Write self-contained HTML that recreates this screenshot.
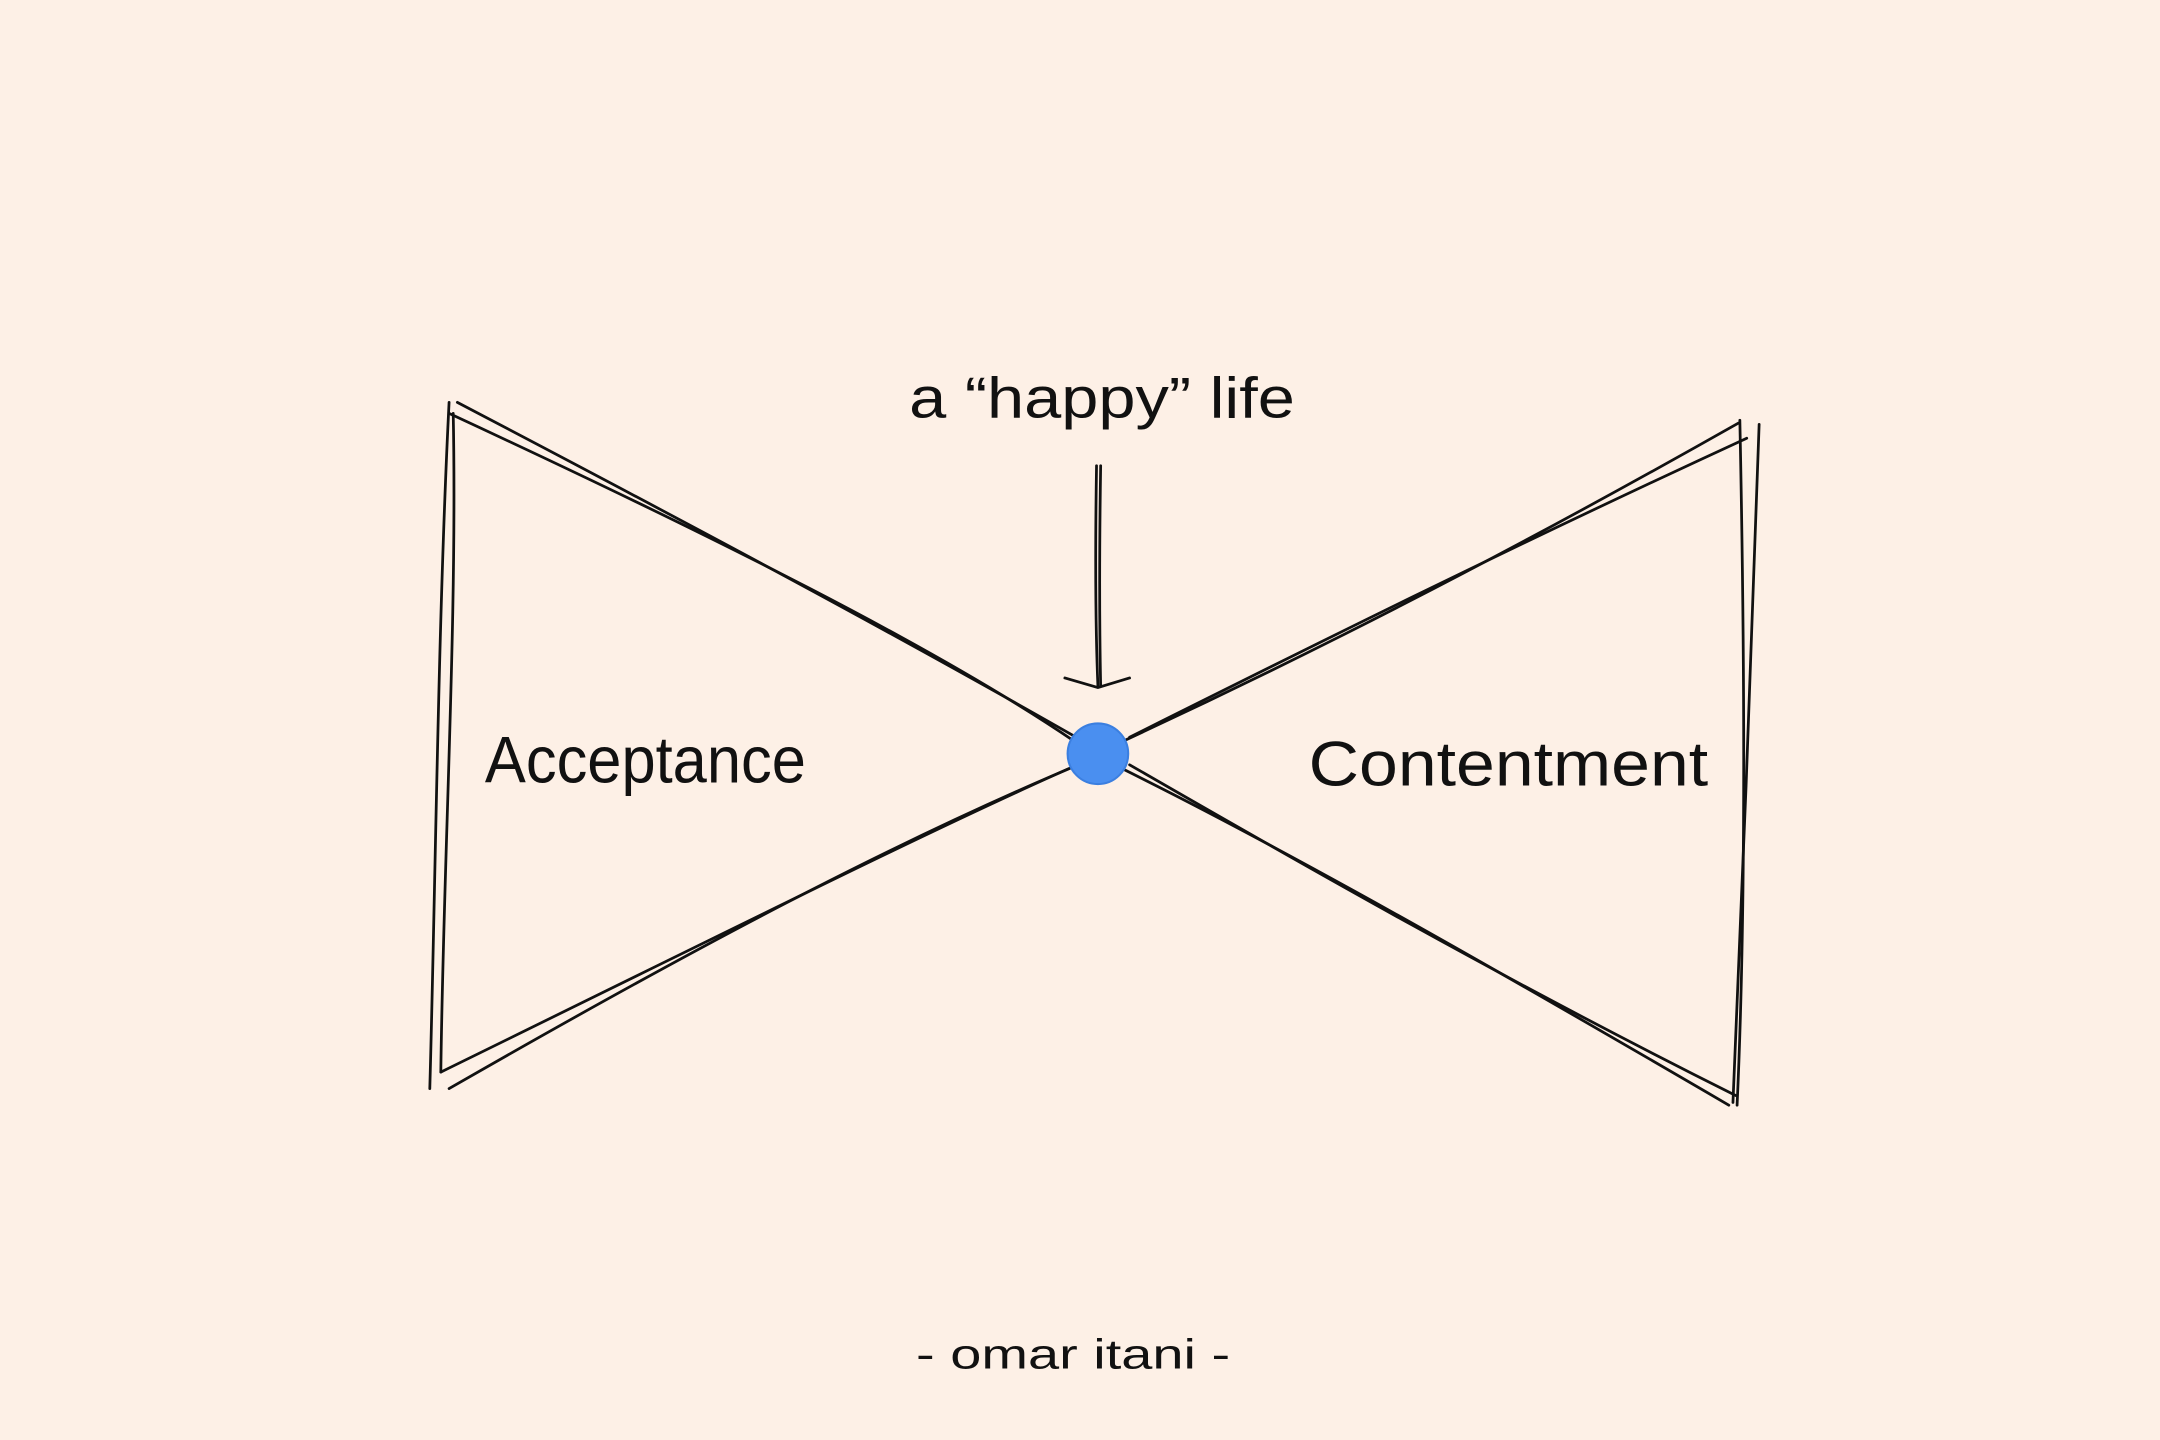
<!DOCTYPE html>
<html><head><meta charset="utf-8"><style>
html,body{margin:0;padding:0;background:#fdf0e6;}
svg{display:block;}
text{font-family:"Liberation Sans",sans-serif;fill:#111;}
</style></head><body>
<svg width="2160" height="1440" viewBox="0 0 1568 1045" preserveAspectRatio="none" xmlns="http://www.w3.org/2000/svg">
<rect width="1568" height="1045" fill="#fdf0e6"/>
<g stroke="#111" stroke-width="2" fill="none" stroke-linecap="round">
<path d="M326 292 C 318 450, 316 650, 312 790"/>
<path d="M329 300 C 332 450, 322 620, 320 778"/>
<path d="M332 292 C 500 380, 650 460, 790 540"/>
<path d="M326 300 C 520 390, 680 470, 780 538"/>
<path d="M326 790 C 500 690, 650 610, 790 552"/>
<path d="M320 778 C 520 680, 680 600, 780 556"/>
<path d="M1263 305 C 1266 450, 1268 650, 1261 802"/>
<path d="M1277 308 C 1272 450, 1265 650, 1258 800"/>
<path d="M1262 307 C 1080 410, 940 480, 815 538"/>
<path d="M1268 318 C 1090 400, 950 470, 820 535"/>
<path d="M1255 802 C 1080 700, 940 620, 815 558"/>
<path d="M1260 795 C 1090 710, 950 630, 820 555"/>
<path d="M796 338 C 795 400, 795 450, 797 498"/>
<path d="M799 338 C 798 400, 798 450, 799 498"/>
<path d="M773 492 L 797 499 L 820 492"/>
</g>
<circle cx="797" cy="547" r="22" fill="#4a8ff0"/>
<circle cx="797" cy="547" r="22" fill="none" stroke="#3b7fe0" stroke-width="1.5"/>
<text x="660" y="303" font-size="42" textLength="280" lengthAdjust="spacingAndGlyphs">a “happy” life</text>
<text x="352" y="568" font-size="48" textLength="233" lengthAdjust="spacingAndGlyphs">Acceptance</text>
<text x="950" y="570" font-size="46" textLength="290" lengthAdjust="spacingAndGlyphs">Contentment</text>
<text x="665" y="993" font-size="30" textLength="228" lengthAdjust="spacingAndGlyphs">- omar itani -</text>
</svg>
</body></html>
